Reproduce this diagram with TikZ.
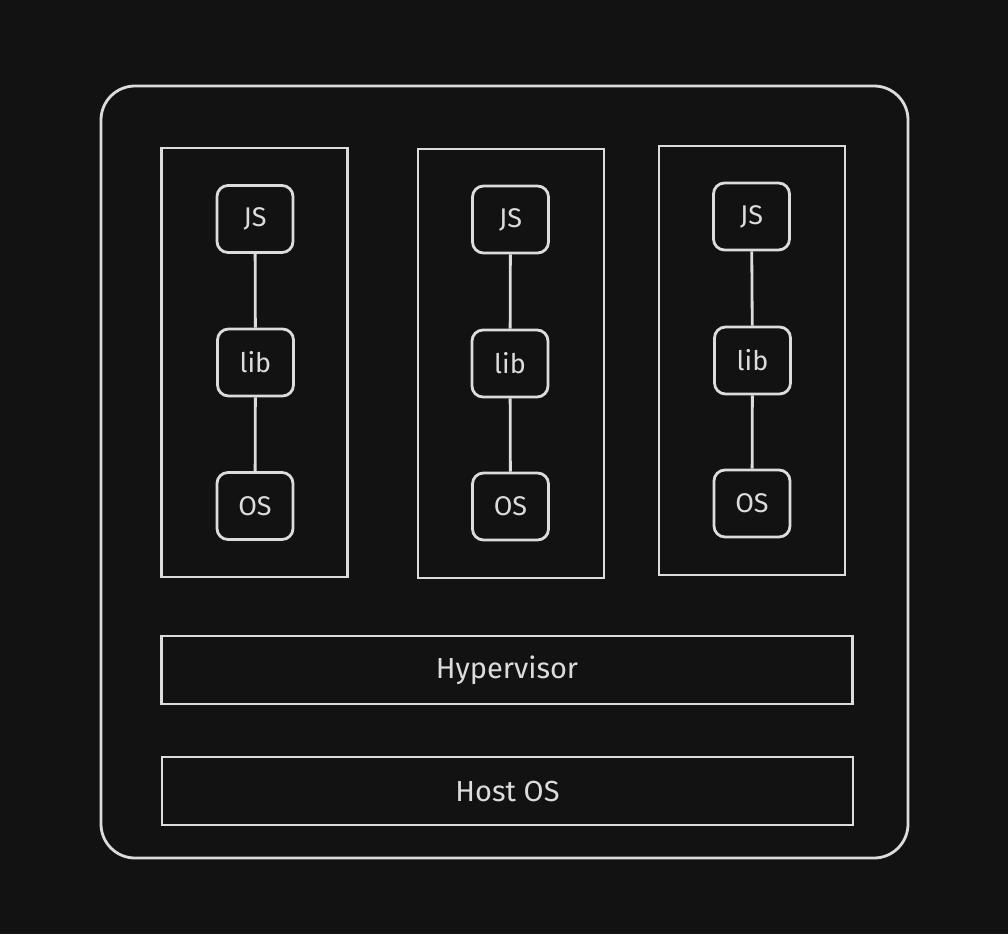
\documentclass[tikz,border=0pt]{standalone}
\usepackage{fontspec}
\setmainfont{Fira Sans}
\begin{document}
\begin{tikzpicture}[x=1pt,y=-1pt,
  ink/.style={draw=fg,line width=2.8pt},
  comp/.style={ink,rounded corners=11pt,minimum width=76pt,minimum height=67pt,inner sep=0pt,text=fg,font=\fontsize{27}{29}\selectfont},
  col/.style={ink,minimum width=186pt,minimum height=429pt,inner sep=0pt},
  bar/.style={ink,minimum width=691pt,minimum height=68pt,inner sep=0pt,text=fg,font=\fontsize{29}{32}\selectfont},
  link/.style={draw=fg,line width=2.8pt}]
\definecolor{bg}{HTML}{121212}
\definecolor{fg}{HTML}{DCDCDC}
\fill[bg] (0,0) rectangle (1008,934);
\useasboundingbox (0,0) rectangle (1008,934);
\draw[ink,rounded corners=34pt] (101,86) rectangle (908,858);
\node[col] (c1) at (254.5,362.5) {};
\node[col] (c2) at (511,363.5) {};
\node[col] (c3) at (752,360.5) {};
\node[comp] (js1) at (255,219) {JS};
\node[comp] (lib1) at (255.5,362.5) {lib};
\node[comp] (os1) at (255,506) {OS};
\node[comp] (js2) at (510.5,219.5) {JS};
\node[comp] (lib2) at (510,363.5) {lib};
\node[comp] (os2) at (510.5,506.5) {OS};
\node[comp] (js3) at (751.5,216.5) {JS};
\node[comp] (lib3) at (752.5,360.5) {lib};
\node[comp] (os3) at (752,503.5) {OS};
\foreach \i in {1,2,3}{
  \draw[link] (js\i) -- (lib\i);
  \draw[link] (lib\i) -- (os\i);
}
\node[bar] (hyp) at (507,670) {Hypervisor};
\node[bar] (host) at (507.5,791) {Host OS};
\end{tikzpicture}
\end{document}
